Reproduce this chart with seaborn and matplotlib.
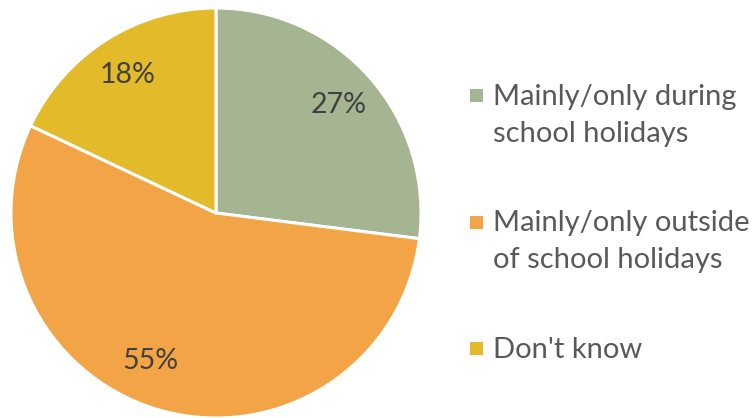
import numpy as np
import matplotlib
matplotlib.use("Agg")
import matplotlib.pyplot as plt
import seaborn as sns
from matplotlib.patches import Rectangle

categories = ["Mainly/only during\nschool holidays",
              "Mainly/only outside\nof school holidays",
              "Don't know"]
values = [27, 55, 18]
colors = ["#A5B592", "#F3A446", "#E3BB2A"]

sns.set_theme(style="white")
plt.rcParams['font.family'] = ['Lato', 'DejaVu Sans']
palette = sns.color_palette(colors)

W, H = 756, 418
fig = plt.figure(figsize=(W / 100, H / 100), dpi=100)
cx, cy, R = 216, 213, 205
ax = fig.add_axes([(cx - R) / W, (H - cy - R) / H, 2 * R / W, 2 * R / H])

wedges, texts, autotexts = ax.pie(
    values, colors=palette, startangle=90, counterclock=False,
    autopct=lambda p: f"{p:.0f}%", pctdistance=0.80, radius=1.0,
    wedgeprops=dict(edgecolor="white", linewidth=2.2),
    textprops=dict(color="#404040", fontsize=20.5))
# Excel best-fit placement for the large slice label
ang = np.deg2rad(-114)
autotexts[1].set_position((0.79 * np.cos(ang), 0.79 * np.sin(ang)))
ax.set_xlim(-1, 1)
ax.set_ylim(-1, 1)
ax.set_aspect("equal")
ax.axis("off")

# legend drawn as text + square markers
marker_y = [95, 222, 348]
baseline_y = [105, 231, 358]
for lab, col, my, by in zip(categories, palette, marker_y, baseline_y):
    fig.patches.append(Rectangle((470 / W, (H - my - 6.5) / H), 13 / W, 13 / H,
                                 transform=fig.transFigure, facecolor=col,
                                 edgecolor="none"))
    for i, line in enumerate(lab.split("\n")):
        fig.text(493 / W, (H - by - 37 * i) / H, line,
                 transform=fig.transFigure, ha="left", va="baseline",
                 fontsize=21, color="#595959")

fig.savefig("out.png", dpi=100)
